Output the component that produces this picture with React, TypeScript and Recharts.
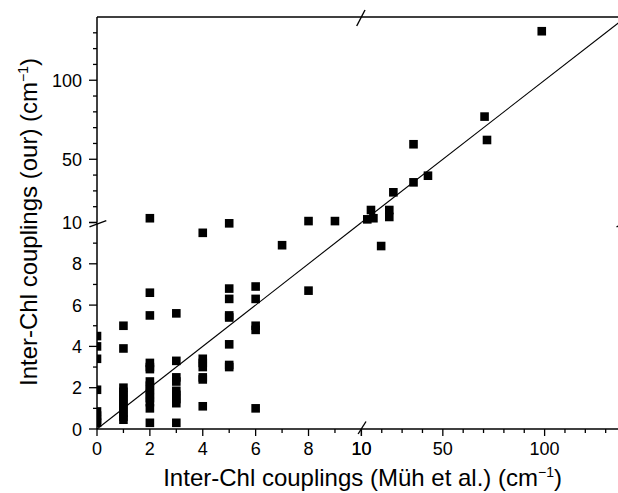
import React from 'react';
import { ScatterChart, Scatter, XAxis, YAxis, ReferenceLine, ReferenceDot } from 'recharts';

// ---- Data (couplings, cm^-1) ----
const mullerX = [
  0, 0, 0, 0, 0, 0, 0, 0,
  1, 1, 1, 1, 1, 1, 1, 1, 1, 1, 1,
  2, 2, 2, 2, 2, 2, 2, 2, 2, 2, 2, 2, 2, 2,
  3, 3, 3, 3, 3, 3, 3, 3, 3,
  4, 4, 4, 4, 4, 4, 4,
  5, 5, 5, 5, 5, 5, 5, 5,
  6, 6, 6, 6, 6,
  7,
  8, 8,
  9,
  12.9, 15.9, 14.7, 23.7, 23.7, 25.7, 35.6, 42.7, 35.6, 70.5, 71.7, 98.6, 19.7,
];
const ourY = [
  4.5, 4.0, 3.4, 1.9, 0.85, 0.65, 0.45, 0.3,
  5.0, 3.9, 2.0, 1.8, 1.6, 1.4, 1.2, 1.0, 0.8, 0.6, 0.45,
  12.7, 6.6, 5.5, 3.2, 3.0, 2.9, 2.3, 2.1, 1.9, 1.7, 1.5, 1.3, 1.0, 0.3,
  5.6, 3.3, 2.5, 2.3, 1.85, 1.65, 1.45, 1.25, 0.3,
  9.5, 3.4, 3.2, 3.0, 2.5, 2.4, 1.1,
  9.96, 6.8, 6.3, 5.5, 5.4, 4.1, 3.1, 3.0,
  6.9, 6.3, 5.0, 4.8, 1.0,
  8.9,
  10.9, 6.7,
  10.9,
  12.0, 12.7, 17.9, 17.9, 13.5, 29.1, 35.4, 39.6, 59.5, 77.0, 62.2, 131, 8.86,
];

// axis segments (broken axes)
const xBreak = 10;
const yBreak = 10;
const xMax = 139;
const yMax = 140;
const xLowTicks = [0, 1, 2, 3, 4, 5, 6, 7, 8, 9, 10];
const xLowLabels = [0, 2, 4, 6, 8, 10];
const xHighTicks = [10, 20, 30, 40, 50, 60, 70, 80, 90, 100, 110, 120, 130];
const xHighLabels = [10, 50, 100];
const yLowTicks = [0, 1, 2, 3, 4, 5, 6, 7, 8, 9, 10];
const yLowLabels = [0, 2, 4, 6, 8, 10];
const yHighTicks = [10, 20, 30, 40, 50, 60, 70, 80, 90, 100, 110, 120, 130];
const yHighLabels = [50, 100];
const yHighMajors = [10, 50, 100];
const fitStart = 0; // y = x line
const fitEnd = 139;

const xTitle = 'Inter-Chl couplings (Müh et al.) (cm';
const yTitle = 'Inter-Chl couplings (our) (cm';

// ---- Layout ----
const W = 624;
const H = 493;
const PL = 97;
const PT = 17;
const PB = 429;
const XB = 361.4;
const YB = 222.5;
const FONT = '"Liberation Sans", Arial, Helvetica, sans-serif';
const TICK_FS = 18;
const TITLE_FS = 24;

const points = mullerX.map((x, i) => ({ x, y: ourY[i] }));
const isLeft = (p: any) => p.x < xBreak;
const isLow = (p: any) => p.y < yBreak;
const ptsLL = points.filter((p) => isLeft(p) && isLow(p));
const ptsLR = points.filter((p) => !isLeft(p) && isLow(p));
const ptsUL = points.filter((p) => isLeft(p) && !isLow(p));
const ptsUR = points.filter((p) => !isLeft(p) && !isLow(p));

const squareShape = (props: any) => {
  const { cx, cy, payload } = props;
  const s = 8.6;
  const half = payload && payload.x === 0;
  return (
    <rect
      x={half ? cx : cx - s / 2}
      y={cy - s / 2}
      width={half ? s / 2 : s}
      height={s}
      fill="#000"
    />
  );
};

const makeXTick = (labels: number[], majors: number[]) => (props: any) => {
  const { x, y, payload } = props;
  const v = payload.value;
  const major = majors.includes(v);
  return (
    <g>
      <line x1={x} x2={x} y1={y} y2={y + (major ? 7 : 4)} stroke="#000" strokeWidth={1.3} />
      {labels.includes(v) && (
        <text x={x} y={y + 25.5} textAnchor="middle" fontSize={TICK_FS} fontFamily={FONT} fill="#000">
          {v}
        </text>
      )}
    </g>
  );
};

const makeYTick = (labels: number[], majors: number[]) => (props: any) => {
  const { x, y, payload } = props;
  const v = payload.value;
  const major = majors.includes(v);
  return (
    <g>
      <line x1={x} x2={x - (major ? 8 : 4)} y1={y} y2={y} stroke="#000" strokeWidth={1.3} />
      {labels.includes(v) && (
        <text x={x - 15} y={y + 6.5} textAnchor="end" fontSize={TICK_FS} fontFamily={FONT} fill="#000">
          {v}
        </text>
      )}
    </g>
  );
};

const breakMark = (dx1: number, dy1: number, dx2: number, dy2: number) => (props: any) => {
  const { cx, cy } = props;
  return <line x1={cx + dx1} y1={cy + dy1} x2={cx + dx2} y2={cy + dy2} stroke="#000" strokeWidth={1.4} />;
};

const axisLine = { stroke: '#000', strokeWidth: 1.5 };
const abs: React.CSSProperties = { position: 'absolute', left: 0, top: 0 };

export default function App() {
  return (
    <div style={{ position: 'absolute', left: 0, top: 0, width: 618, height: 493, overflow: 'hidden', background: '#fff' }}>
      {/* lower-left */}
      <div style={abs}>
        <ScatterChart width={W} height={H} margin={{ top: YB, right: W - XB, bottom: 0, left: 0 }}>
          <XAxis
            type="number"
            dataKey="x"
            domain={[0, xBreak]}
            ticks={xLowTicks}
            interval={0}
            tickSize={0}
            tickMargin={0}
            tickLine={false}
            height={H - PB}
            axisLine={axisLine}
            tick={makeXTick(xLowLabels, xLowLabels)}
          />
          <YAxis
            type="number"
            dataKey="y"
            domain={[0, yBreak]}
            ticks={yLowTicks}
            interval={0}
            tickSize={0}
            tickMargin={0}
            tickLine={false}
            width={PL}
            axisLine={axisLine}
            tick={makeYTick(yLowLabels, yLowLabels)}
          />
          <ReferenceLine
            segment={[{ x: fitStart, y: fitStart }, { x: xBreak, y: yBreak }]}
            stroke="#000"
            strokeWidth={1.1}
            ifOverflow="visible"
          />
          <Scatter data={ptsLL} shape={squareShape} isAnimationActive={false} />
          <ReferenceDot x={xBreak} y={0} ifOverflow="visible" shape={breakMark(-3.3, 5, 4.6, -7.5)} />
          <ReferenceDot x={0} y={yBreak} ifOverflow="visible" shape={breakMark(-7.5, 4.4, 9.3, -1.8)} />
        </ScatterChart>
      </div>
      {/* lower-right */}
      <div style={abs}>
        <ScatterChart width={W} height={H} margin={{ top: YB, right: 0, bottom: 0, left: XB }}>
          <XAxis
            type="number"
            dataKey="x"
            domain={[xBreak, xMax]}
            ticks={xHighTicks}
            interval={0}
            tickSize={0}
            tickMargin={0}
            tickLine={false}
            height={H - PB}
            axisLine={axisLine}
            tick={makeXTick(xHighLabels, xHighLabels)}
          />
          <YAxis type="number" dataKey="y" domain={[0, yBreak]} hide width={0} />
          <Scatter data={ptsLR} shape={squareShape} isAnimationActive={false} />
          <ReferenceDot x={xMax} y={yBreak} ifOverflow="visible" shape={breakMark(-7.5, 4.4, 9.3, -1.8)} />
        </ScatterChart>
      </div>
      {/* upper-left */}
      <div style={abs}>
        <ScatterChart width={W} height={H} margin={{ top: PT, right: W - XB, bottom: H - YB, left: 0 }}>
          <XAxis type="number" dataKey="x" domain={[0, xBreak]} hide height={0} />
          <YAxis
            type="number"
            dataKey="y"
            domain={[yBreak, yMax]}
            ticks={yHighTicks}
            interval={0}
            tickSize={0}
            tickMargin={0}
            tickLine={false}
            width={PL}
            axisLine={axisLine}
            tick={makeYTick(yHighLabels, yHighMajors)}
          />
          <ReferenceLine y={yMax} stroke="#000" strokeWidth={1.5} ifOverflow="visible" />
          <Scatter data={ptsUL} shape={squareShape} isAnimationActive={false} />
          <ReferenceDot x={xBreak} y={yMax} ifOverflow="visible" shape={breakMark(-4.7, 9, 3.6, -7)} />
        </ScatterChart>
      </div>
      {/* upper-right */}
      <div style={abs}>
        <ScatterChart width={W} height={H} margin={{ top: PT, right: 0, bottom: H - YB, left: XB }}>
          <XAxis type="number" dataKey="x" domain={[xBreak, xMax]} hide height={0} />
          <YAxis type="number" dataKey="y" domain={[yBreak, yMax]} hide width={0} />
          <ReferenceLine y={yMax} stroke="#000" strokeWidth={1.5} ifOverflow="visible" />
          <ReferenceLine
            segment={[{ x: xBreak, y: yBreak }, { x: fitEnd, y: fitEnd }]}
            stroke="#000"
            strokeWidth={1.1}
            ifOverflow="visible"
          />
          <Scatter data={ptsUR} shape={squareShape} isAnimationActive={false} />
        </ScatterChart>
      </div>
      {/* axis titles */}
      <svg width={618} height={493} style={{ ...abs, pointerEvents: 'none' }}>
        <text x={362.6} y={486} textAnchor="middle" fontSize={TITLE_FS} fontFamily={FONT} fill="#000">
          {xTitle}
          <tspan dy={-9} fontSize={14}>−1</tspan>
          <tspan dy={9}>)</tspan>
        </text>
        <text transform="translate(37,222) rotate(-90)" textAnchor="middle" fontSize={TITLE_FS} fontFamily={FONT} fill="#000">
          {yTitle}
          <tspan dy={-9} fontSize={14}>−1</tspan>
          <tspan dy={9}>)</tspan>
        </text>
      </svg>
    </div>
  );
}
